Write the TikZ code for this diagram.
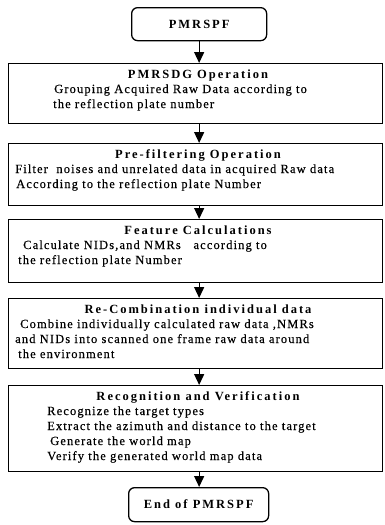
\documentclass[tikz,border=0pt]{standalone}
\usepackage{fontspec}
\setmainfont{Liberation Serif}
\newfontfamily\bodyfnt[LetterSpace=9,FakeBold=0.3]{Liberation Serif}
\newfontfamily\headfnt[LetterSpace=16]{Liberation Serif}
\usetikzlibrary{arrows.meta}
\begin{document}
\begin{tikzpicture}[x=1pt,y=-1pt,
  box/.style={draw,line width=1.3pt,anchor=north west,minimum width=374pt},
  term/.style={draw,line width=1.3pt,rounded corners=6pt,anchor=north west,
    font=\headfnt\bfseries\fontsize{12.5}{15}\selectfont},
  hd/.style={font=\headfnt\bfseries\fontsize{12.5}{15}\selectfont,inner sep=0pt,anchor=base},
  tx/.style={font=\bodyfnt\fontsize{12.5}{15}\selectfont,inner sep=0pt,anchor=base west},
  arr/.style={line width=1.3pt,-{Triangle[width=10pt,length=11pt]}}]
\useasboundingbox (0,0) rectangle (384,525);
% terminals
\node[term,minimum width=135pt,minimum height=33pt] (st) at (131,7) {PMRSPF};
\node[term,minimum width=140pt,minimum height=34pt] (en) at (128,487) {End of PMRSPF};
% boxes
\node[box,minimum height=60pt] (b1) at (8,63) {};
\node[box,minimum height=62pt] (b2) at (8,143) {};
\node[box,minimum height=63pt] (b3) at (8,219) {};
\node[box,minimum height=70pt] (b4) at (8,298) {};
\node[box,minimum height=86pt] (b5) at (8,385) {};
% box 1
\node[hd] (h1) at (198,78) {PMRSDG Operation};
\node[tx] (t11) at (54,93) {Grouping Acquired Raw Data according to};
\node[tx] (t12) at (53,108) {the reflection plate number};
% box 2
\node[hd] (h2) at (198,158) {Pre-filtering Operation};
\node[tx] (t21) at (15,173) {Filter\ \ noises and unrelated data in acquired Raw data};
\node[tx] (t22) at (16,188) {According to the reflection plate Number};
% box 3
\node[hd] (h3) at (198,234) {Feature Calculations};
\node[tx] (t31) at (23,249) {Calculate NIDs,and NMRs\ \ \ according to};
\node[tx] (t32) at (18,264) {the reflection plate Number};
% box 4
\node[hd] (h4) at (198,313) {Re-Combination individual data};
\node[tx] (t41) at (20,328) {Combine individually calculated raw data ,NMRs};
\node[tx] (t42) at (15,343) {and NIDs into scanned one frame raw data around};
\node[tx] (t43) at (18,358) {the environment};
% box 5
\node[hd] (h5) at (198,400) {Recognition and Verification};
\node[tx] (t51) at (47,415) {Recognize the target types};
\node[tx] (t52) at (47,430) {Extract the azimuth and distance to the target};
\node[tx] (t53) at (50,445) {Generate the world map};
\node[tx] (t54) at (47,460) {Verify the generated world map data};
% arrows
\draw[arr] (st.south) -- (st.south |- b1.north);
\draw[arr] (st.south |- b1.south) -- (st.south |- b2.north);
\draw[arr] (st.south |- b2.south) -- (st.south |- b3.north);
\draw[arr] (st.south |- b3.south) -- (st.south |- b4.north);
\draw[arr] (st.south |- b4.south) -- (st.south |- b5.north);
\draw[arr] (st.south |- b5.south) -- (st.south |- en.north);
\end{tikzpicture}
\end{document}
